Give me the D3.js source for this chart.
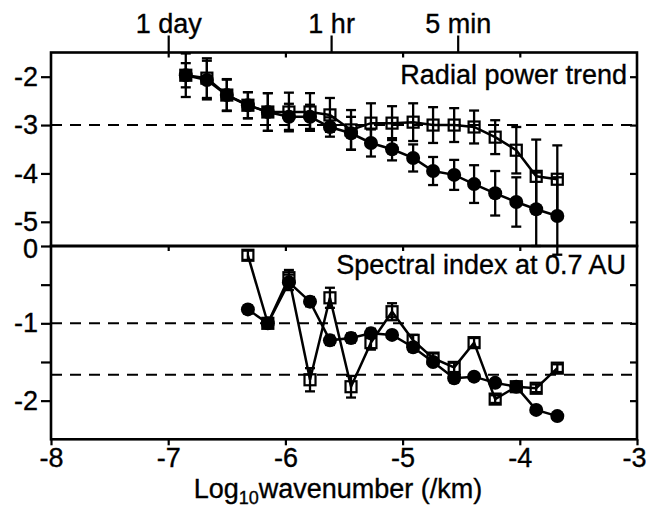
<!DOCTYPE html>
<html>
<head>
<meta charset="utf-8">
<script src="https://cdn.jsdelivr.net/npm/d3@7"></script>
<style>
  body { margin: 0; background: #fff; }
  svg { display: block; }
  text { font-family: "Liberation Sans", Arial, Helvetica, sans-serif; fill: #000; stroke: #000; stroke-width: 0.35px; }
</style>
</head>
<body>
<div id="chart"></div>
<script>
'use strict';

// log10 wavenumber (/km) of each bin
const logK = [-6.85, -6.67, -6.50, -6.32, -6.15, -5.97, -5.79, -5.62, -5.44, -5.27,
              -5.09, -4.91, -4.74, -4.56, -4.39, -4.21, -4.03, -3.86, -3.68];

// upper panel - radial power trend (filled circles / open squares) with error half-widths
const trendFilled    = [-1.97, -2.07, -2.38, -2.59, -2.73, -2.83, -2.83, -3.04, -3.17, -3.37,
                        -3.50, -3.68, -3.95, -4.03, -4.22, -4.41, -4.59, -4.74, -4.88];
const trendFilledErr = [0.25, 0.40, 0.33, 0.27, 0.39, 0.27, 0.25, 0.20, 0.34, 0.28,
                        0.23, 0.28, 0.29, 0.31, 0.39, 0.46, 0.51, 0.76, 0.80];
const trendOpen      = [-1.97, -2.03, -2.38, -2.59, -2.73, -2.73, -2.73, -2.79, -3.10, -2.96,
                        -2.96, -2.94, -3.00, -3.00, -3.04, -3.25, -3.52, -4.06, -4.12];
const trendOpenErr   = [0.45, 0.41, 0.32, 0.27, 0.39, 0.40, 0.39, 0.35, 0.41, 0.41,
                        0.35, 0.39, 0.37, 0.35, 0.34, 0.35, 0.48, 0.76, 0.70];

// lower panel - spectral index at 0.7 AU, from the 4th bin on
const indexK         = [-6.32, -6.15, -5.97, -5.79, -5.62, -5.44, -5.27, -5.09,
                        -4.91, -4.74, -4.56, -4.39, -4.21, -4.03, -3.86, -3.68];
const indexFilled    = [-0.82, -1.00, -0.47, -0.72, -1.22, -1.19, -1.13, -1.15,
                        -1.31, -1.50, -1.71, -1.69, -1.77, -1.82, -2.12, -2.20];
const indexFilledErr = [0.05, 0.05, 0.10, 0.06, 0.06, 0.06, 0.06, 0.05,
                        0.05, 0.05, 0.05, 0.04, 0.04, 0.04, 0.04, 0.04];
const indexOpen      = [-0.12, -1.00, -0.41, -1.73, -0.67, -1.82, -1.25, -0.85,
                        -1.22, -1.45, -1.57, -1.25, -1.98, -1.82, -1.84, -1.58];
const indexOpenErr   = [0.06, 0.05, 0.10, 0.15, 0.13, 0.14, 0.09, 0.11,
                        0.07, 0.06, 0.06, 0.06, 0.05, 0.05, 0.05, 0.05];

// axis ticks
const xTicks = [-8, -7, -6, -5, -4, -3];
const topTicks = [-2, -3, -4, -5];
const botTicks = [0, -0.5, -1, -1.5, -2];
const botLabels = [0, -1, -2];
const periodLabels = ['1 day', '1 hr', '5 min'];
const periodPos = [-7.0, -5.61, -4.53];
const topRef = [-3];
const botRef = [-1, -5 / 3];

const svgWidth = 646, svgHeight = 507;
const plotLeft = 51, plotRight = 637, plotTop = 52.5, plotMid = 246, plotBottom = 439.3;
const fontSize = 27;

const svg = d3.select('#chart').append('svg')
    .attr('width', svgWidth)
    .attr('height', svgHeight);

const x = d3.scaleLinear([-8, -3], [plotLeft, plotRight]);
const yTop = d3.scaleLinear([-5.5, -1.5], [plotMid, plotTop]);
const yBot = d3.scaleLinear([-2.5, 0], [plotBottom, plotMid]);

// styles an axis group: black thick ticks, large text, no domain
function styleAxis(g, width = 2.2) {
    g.select('.domain').remove();
    g.selectAll('.tick line').attr('stroke', '#000').attr('stroke-width', width);
    g.selectAll('.tick text')
        .attr('font-size', fontSize)
        .attr('font-family', '"Liberation Sans", Arial, sans-serif');
    g.attr('font-family', null).attr('font-size', null);
}

// left axes with labels
svg.append('g')
    .attr('transform', `translate(${plotLeft},0)`)
    .call(d3.axisLeft(yTop).tickValues(topTicks).tickSize(10).tickPadding(3).tickFormat(d => String(d)))
    .call(styleAxis);

svg.append('g')
    .attr('transform', `translate(${plotLeft},0)`)
    .call(d3.axisLeft(yBot).tickValues(botTicks).tickSize(10).tickPadding(3)
        .tickFormat(d => botLabels.includes(d) ? String(d) : ''))
    .call(styleAxis)
    .call(g => g.selectAll('.tick text').filter(d => d === 0).attr('dy', '0.42em'));

// right side inward ticks
svg.append('g')
    .attr('transform', `translate(${plotRight},0)`)
    .call(d3.axisLeft(yTop).tickValues(topTicks).tickSize(7).tickFormat(''))
    .call(styleAxis);
svg.append('g')
    .attr('transform', `translate(${plotRight},0)`)
    .call(d3.axisLeft(yBot).tickValues(botTicks.slice(1)).tickSize(7).tickFormat(''))
    .call(styleAxis);

// inward ticks below the top frame and below the panel divider
[plotTop, plotMid].forEach(yy => {
    svg.append('g')
        .attr('transform', `translate(0,${yy})`)
        .call(d3.axisBottom(x).tickValues(xTicks.slice(1, -1)).tickSize(5).tickFormat(''))
        .call(styleAxis);
});

// bottom x axis
svg.append('g')
    .attr('transform', `translate(0,${plotBottom})`)
    .call(d3.axisBottom(x).tickValues(xTicks).tickSize(6).tickPadding(3).tickFormat(d => String(d)))
    .call(styleAxis)
    .call(g => g.selectAll('.tick text').filter(d => d === -3).attr('text-anchor', 'end').attr('dx', 9));

// period axis on top
svg.append('g')
    .attr('transform', `translate(0,${plotTop})`)
    .call(d3.axisTop(x).tickValues(periodPos).tickSize(17).tickPadding(3)
        .tickFormat((d, i) => periodLabels[i]))
    .call(styleAxis);

// reference dashed lines
const dash = (yScale, vals) => {
    svg.append('g').selectAll('line').data(vals).join('line')
        .attr('x1', plotLeft).attr('x2', plotRight)
        .attr('y1', d => yScale(d)).attr('y2', d => yScale(d))
        .attr('stroke', '#000')
        .attr('stroke-width', 2)
        .attr('stroke-dasharray', '11,8');
};
dash(yTop, topRef);
dash(yBot, botRef);

// frames
svg.append('rect')
    .attr('x', plotLeft).attr('y', plotTop)
    .attr('width', plotRight - plotLeft).attr('height', plotMid - plotTop)
    .attr('fill', 'none').attr('stroke', '#000').attr('stroke-width', 2.6);
svg.append('rect')
    .attr('x', plotLeft).attr('y', plotMid)
    .attr('width', plotRight - plotLeft).attr('height', plotBottom - plotMid)
    .attr('fill', 'none').attr('stroke', '#000').attr('stroke-width', 2.6);

// draws one series: line, error bars, markers
function drawSeries(ks, vals, errs, yScale, filled) {
    const pts = ks.map((k, i) => ({ k: k, v: vals[i], e: errs[i] }));
    const g = svg.append('g');

    g.append('path')
        .datum(pts)
        .attr('fill', 'none')
        .attr('stroke', '#000')
        .attr('stroke-width', 2.5)
        .attr('d', d3.line().x(d => x(d.k)).y(d => yScale(d.v)));

    const cap = 5;
    const eb = g.selectAll('g.err').data(pts).join('g').attr('class', 'err')
        .attr('stroke', '#000').attr('stroke-width', 2.3);
    eb.append('line')
        .attr('x1', d => x(d.k)).attr('x2', d => x(d.k))
        .attr('y1', d => yScale(d.v + d.e)).attr('y2', d => yScale(d.v - d.e));
    eb.append('line')
        .attr('x1', d => x(d.k) - cap).attr('x2', d => x(d.k) + cap)
        .attr('y1', d => yScale(d.v + d.e)).attr('y2', d => yScale(d.v + d.e));
    eb.append('line')
        .attr('x1', d => x(d.k) - cap).attr('x2', d => x(d.k) + cap)
        .attr('y1', d => yScale(d.v - d.e)).attr('y2', d => yScale(d.v - d.e));

    if (filled) {
        g.selectAll('circle').data(pts).join('circle')
            .attr('cx', d => x(d.k)).attr('cy', d => yScale(d.v))
            .attr('r', 7)
            .attr('fill', '#000');
    } else {
        const s = 11;
        g.selectAll('rect').data(pts).join('rect')
            .attr('x', d => x(d.k) - s / 2).attr('y', d => yScale(d.v) - s / 2)
            .attr('width', s).attr('height', s)
            .attr('fill', 'none')
            .attr('stroke', '#000')
            .attr('stroke-width', 2.2);
    }
}

drawSeries(logK, trendFilled, trendFilledErr, yTop, true);
drawSeries(logK, trendOpen, trendOpenErr, yTop, false);
drawSeries(indexK, indexFilled, indexFilledErr, yBot, true);
drawSeries(indexK, indexOpen, indexOpenErr, yBot, false);

// panel captions
svg.append('text')
    .attr('x', 627).attr('y', 84)
    .attr('text-anchor', 'end')
    .attr('font-size', fontSize)
    .text('Radial power trend');

svg.append('text')
    .attr('x', 626).attr('y', 274)
    .attr('text-anchor', 'end')
    .attr('font-size', fontSize)
    .text('Spectral index at 0.7 AU');

// x axis title with subscript
const title = svg.append('text')
    .attr('x', (plotLeft + plotRight) / 2 - 6).attr('y', 498)
    .attr('text-anchor', 'middle')
    .attr('font-size', fontSize);
title.append('tspan').text('Log');
title.append('tspan').attr('font-size', 18).attr('dy', 6).text('10');
title.append('tspan').attr('dy', -6).text('wavenumber (/km)');
</script>
</body>
</html>
